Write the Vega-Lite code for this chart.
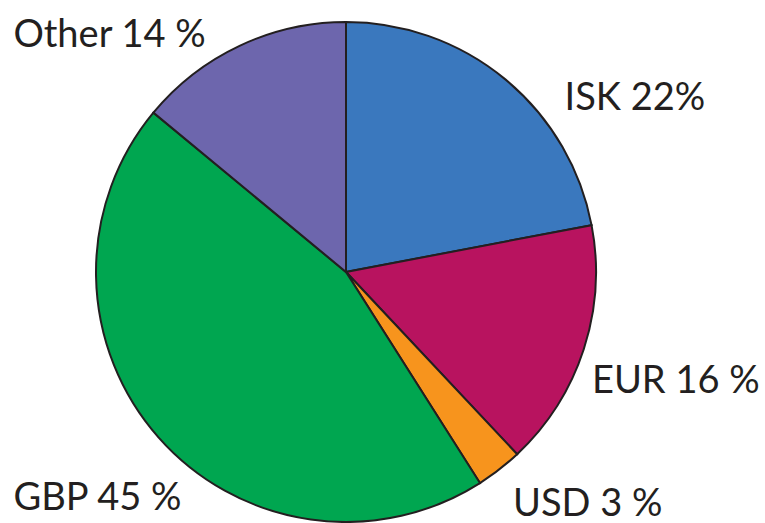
{
  "$schema": "https://vega.github.io/schema/vega-lite/v6.json",
  "width": 692,
  "height": 502,
  "autosize": {"type": "none"},
  "padding": {"left": 0, "top": 21, "right": 73, "bottom": 0},
  "background": "white",
  "config": {"view": {"stroke": null}},
  "data": {"values": [
    {"currency": "ISK", "share": 22, "rank": 1, "label": "ISK 22%"},
    {"currency": "EUR", "share": 16, "rank": 2, "label": "EUR 16 %"},
    {"currency": "USD", "share": 3, "rank": 3, "label": "USD 3 %"},
    {"currency": "GBP", "share": 45, "rank": 4, "label": "GBP 45 %"},
    {"currency": "Other", "share": 14, "rank": 5, "label": "Other 14 %"}
  ]},
  "encoding": {
    "theta": {"field": "share", "type": "quantitative", "stack": true},
    "order": {"field": "rank", "type": "quantitative"}
  },
  "layer": [
    {
      "mark": {"type": "arc", "radius": 250, "stroke": "#231f20", "strokeWidth": 2},
      "encoding": {
        "color": {
          "field": "currency", "type": "nominal", "legend": null,
          "scale": {"domain": ["ISK", "EUR", "USD", "GBP", "Other"],
                    "range": ["#3a78be", "#b8135f", "#f7941d", "#00a650", "#6d66ad"]}
        }
      }
    },
    {
      "mark": {"type": "text", "radius": 290, "dx": 104, "dy": 61, "align": "center", "baseline": "alphabetic", "font": "Lato", "fontSize": 38, "color": "#231f20"},
      "encoding": {"text": {"condition": {"test": "datum.currency === 'ISK'", "field": "label", "type": "nominal"}, "value": ""}}
    },
    {
      "mark": {"type": "text", "radius": 290, "dx": 54, "dy": 31, "align": "center", "baseline": "alphabetic", "font": "Lato", "fontSize": 38, "color": "#231f20"},
      "encoding": {"text": {"condition": {"test": "datum.currency === 'EUR'", "field": "label", "type": "nominal"}, "value": ""}}
    },
    {
      "mark": {"type": "text", "radius": 290, "dx": 64, "dy": 15, "align": "center", "baseline": "alphabetic", "font": "Lato", "fontSize": 38, "color": "#231f20"},
      "encoding": {"text": {"condition": {"test": "datum.currency === 'USD'", "field": "label", "type": "nominal"}, "value": ""}}
    },
    {
      "mark": {"type": "text", "radius": 290, "dx": -31, "dy": 46, "align": "center", "baseline": "alphabetic", "font": "Lato", "fontSize": 38, "color": "#231f20"},
      "encoding": {"text": {"condition": {"test": "datum.currency === 'GBP'", "field": "label", "type": "nominal"}, "value": ""}}
    },
    {
      "mark": {"type": "text", "radius": 290, "dx": -113, "dy": 37, "align": "center", "baseline": "alphabetic", "font": "Lato", "fontSize": 38, "color": "#231f20"},
      "encoding": {"text": {"condition": {"test": "datum.currency === 'Other'", "field": "label", "type": "nominal"}, "value": ""}}
    }
  ]
}
